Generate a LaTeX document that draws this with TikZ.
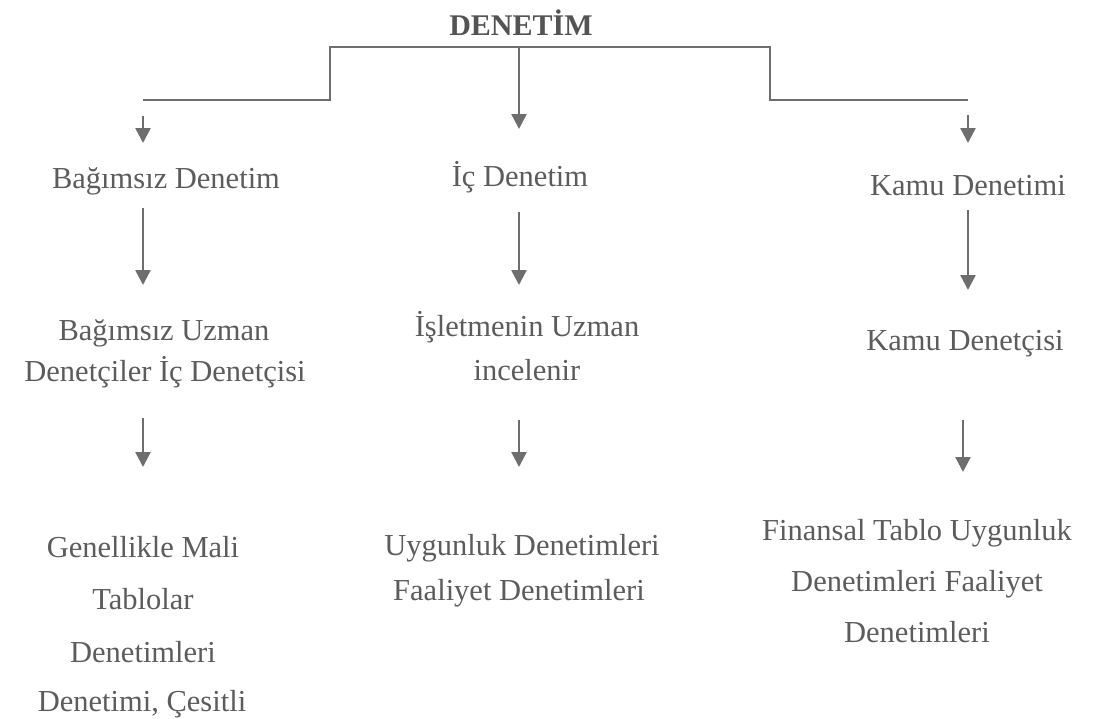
\documentclass[tikz,border=0pt]{standalone}
\usepackage{fontspec}
\setmainfont{Liberation Serif}
\usetikzlibrary{arrows.meta}
\definecolor{txt}{HTML}{5C5C5C}
\definecolor{ln}{HTML}{6E6E6E}
\tikzset{
  lbl/.style={inner sep=0pt, anchor=base, text=txt, font=\fontsize{30.5}{36}\selectfont},
  ttl/.style={inner sep=0pt, anchor=base, text=txt!90!black, font=\fontsize{30}{34}\selectfont\bfseries},
  conn/.style={draw=ln, line width=2.4pt},
  arr/.style={conn, -{Triangle[width=15pt,length=15pt]}}
}
\begin{document}
\begin{tikzpicture}[x=1pt,y=-1pt]
\useasboundingbox (0,0) rectangle (1093,718);
% title
\node[ttl] (title) at (521,35) {DENETİM};
% bracket
\coordinate (bl) at (143,100);
\coordinate (bl2) at (330,100);
\coordinate (tl) at (330,47);
\coordinate (tm) at (519,47);
\coordinate (tr) at (770,47);
\coordinate (br2) at (770,100);
\coordinate (br) at (968,100);
\coordinate (tmend) at (519,129);
\draw[conn] (bl) -- (bl2) -- (tl) -- (tr) -- (br2) -- (br);
\draw[arr] (tm) -- (tmend);
% level 1 arrows (short)
\coordinate (a1s) at (143,116); \coordinate (a1e) at (143,143);
\coordinate (c1s) at (968,115); \coordinate (c1e) at (968,143);
\draw[arr] (a1s) -- (a1e);
\draw[arr] (c1s) -- (c1e);
% level 1 labels
\node[lbl] (bd) at (166,188) {Bağımsız Denetim};
\node[lbl] (id) at (520,186) {İç Denetim};
\node[lbl] (kd) at (968,195) {Kamu Denetimi};
% level 2 arrows
\coordinate (a2s) at (143,208); \coordinate (a2e) at (143,285);
\coordinate (b2s) at (519,212); \coordinate (b2e) at (519,285);
\coordinate (c2s) at (968,210); \coordinate (c2e) at (968,290);
\draw[arr] (a2s) -- (a2e);
\draw[arr] (b2s) -- (b2e);
\draw[arr] (c2s) -- (c2e);
% level 2 labels
\node[lbl] (bu1) at (164,340) {Bağımsız Uzman};
\node[lbl] (bu2) at (165,381) {Denetçiler İç Denetçisi};
\node[lbl] (iu1) at (527,336) {İşletmenin Uzman};
\node[lbl] (iu2) at (527,380) {incelenir};
\node[lbl] (kdc) at (965,350) {Kamu Denetçisi};
% level 3 arrows
\coordinate (a3s) at (143,418); \coordinate (a3e) at (143,467);
\coordinate (b3s) at (519,420); \coordinate (b3e) at (519,467);
\coordinate (c3s) at (963,420); \coordinate (c3e) at (963,472);
\draw[arr] (a3s) -- (a3e);
\draw[arr] (b3s) -- (b3e);
\draw[arr] (c3s) -- (c3e);
% level 3 labels
\node[lbl] (g1) at (143,557) {Genellikle Mali};
\node[lbl] (g2) at (143,609) {Tablolar};
\node[lbl] (g3) at (143,662) {Denetimleri};
\node[lbl] (g4) at (142,711) {Denetimi, Çesitli};
\node[lbl] (u1) at (522,555) {Uygunluk Denetimleri};
\node[lbl] (u2) at (519,600) {Faaliyet Denetimleri};
\node[lbl] (f1) at (917,540) {Finansal Tablo Uygunluk};
\node[lbl] (f2) at (917,591) {Denetimleri Faaliyet};
\node[lbl] (f3) at (917,642) {Denetimleri};
\end{tikzpicture}
\end{document}
